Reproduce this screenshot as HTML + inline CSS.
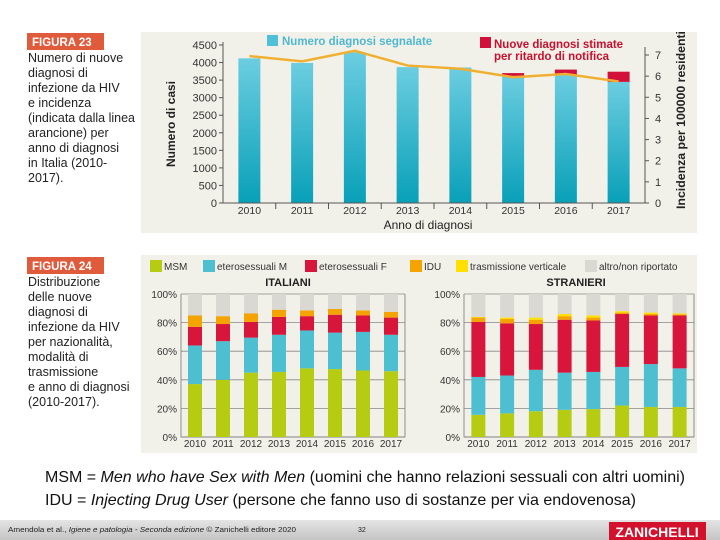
<!DOCTYPE html>
<html><head><meta charset="utf-8"><style>
body{margin:0;width:720px;height:540px;overflow:hidden;background:#fff;font-family:"Liberation Sans",sans-serif}
svg{display:block}
</style></head><body>
<svg id="s" width="720" height="540" viewBox="0 0 720 540" xmlns="http://www.w3.org/2000/svg">
<defs>
<linearGradient id="tg" x1="0" y1="0" x2="0" y2="1"><stop offset="0" stop-color="#6ccde0"/><stop offset="1" stop-color="#08a0b8"/></linearGradient>
<linearGradient id="fg" x1="0" y1="0" x2="0" y2="1"><stop offset="0" stop-color="#e4e4e4"/><stop offset="1" stop-color="#c4c4c4"/></linearGradient>
</defs>
<rect x="141" y="32" width="556" height="201" fill="#f2f1e9"/>
<rect x="141" y="255" width="556" height="198" fill="#f2f1e9"/>
<g font-size="12.5" fill="#222">
<rect x="27" y="33" width="77" height="17" fill="#e05a3c"/>
<text x="32" y="46" fill="#fff" font-weight="bold" font-size="11.5">FIGURA 23</text>
<text x="28" y="62">Numero di nuove</text><text x="28" y="77">diagnosi di</text><text x="28" y="92">infezione da HIV</text><text x="28" y="107">e incidenza</text><text x="28" y="122">(indicata dalla linea</text><text x="28" y="137">arancione) per</text><text x="28" y="152">anno di diagnosi</text><text x="28" y="167">in Italia (2010-</text><text x="28" y="182">2017).</text>
</g>
<g font-size="12.5" fill="#222">
<rect x="27" y="257" width="77" height="17" fill="#e05a3c"/>
<text x="32" y="270" fill="#fff" font-weight="bold" font-size="11.5">FIGURA 24</text>
<text x="28" y="286">Distribuzione</text><text x="28" y="301">delle nuove</text><text x="28" y="316">diagnosi di</text><text x="28" y="331">infezione da HIV</text><text x="28" y="346">per nazionalità,</text><text x="28" y="361">modalità di</text><text x="28" y="376">trasmissione</text><text x="28" y="391">e anno di diagnosi</text><text x="28" y="406">(2010-2017).</text>
</g>
<g id="c1"></g>
<g id="c2"></g>
<g font-size="16" fill="#111">
<text x="45" y="482" textLength="640" lengthAdjust="spacingAndGlyphs">MSM = <tspan font-style="italic">Men who have Sex with Men</tspan> (uomini che hanno relazioni sessuali con altri uomini)</text>
<text x="45" y="505" textLength="591" lengthAdjust="spacingAndGlyphs">IDU = <tspan font-style="italic">Injecting Drug User</tspan> (persone che fanno uso di sostanze per via endovenosa)</text>
</g>
<g>
<rect x="0" y="520" width="720" height="20" fill="url(#fg)"/>
<text x="8" y="532" font-size="7" fill="#222" textLength="288" lengthAdjust="spacingAndGlyphs">Amendola et al., <tspan font-style="italic">Igiene e patologia - Seconda edizione</tspan> © Zanichelli editore 2020</text>
<text x="358" y="532" font-size="7" fill="#222">32</text>
<rect x="609" y="522" width="97" height="18" fill="#d4112c"/>
<text x="657" y="537" font-size="14" font-weight="bold" fill="#fff" text-anchor="middle">ZANICHELLI</text>
</g>
</svg>
<script>
const years=["2010","2011","2012","2013","2014","2015","2016","2017"];
const reported=[4120,3990,4290,3870,3860,3620,3650,3450];
const estimatedExtra=[0,0,0,0,0,80,150,290];
const incidence=[6.95,6.7,7.2,6.5,6.35,5.95,6.1,5.75];
const leftTicks=[0,500,1000,1500,2000,2500,3000,3500,4000,4500];
const rightTicks=[0,1,2,3,4,5,6,7];
const segNames=["MSM","eterosessuali M","eterosessuali F","IDU","trasmissione verticale","altro/non riportato"];
const itMSM=[37,40,45,45.5,48,47.5,46.5,46];
const itEtM=[27,27,24.5,26,26.5,25.5,27,25.5];
const itEtF=[13,12,11,12.5,10,12.5,11.5,12];
const itIDU=[8,5.5,6,5,4,4,3.5,4];
const itVert=[0,0,0,0,0,0,0,0];
const stMSM=[15.5,16.5,18,19,19.5,22,21,21];
const stEtM=[26.5,26.5,29,26,26,27,30,27];
const stEtF=[38.5,36.5,32,37,36,37,34,37];
const stIDU=[3,3,3,2.5,2,1,1,0.8];
const stVert=[0.5,1,1.5,1.5,1.5,1,1,0.7];
const pctTicks=["0%","20%","40%","60%","80%","100%"];

const NS="http://www.w3.org/2000/svg";
function mk(p,t,a,txt){const e=document.createElementNS(NS,t);for(const k in a)e.setAttribute(k,a[k]);if(txt!==undefined)e.textContent=txt;p.appendChild(e);return e;}

// Chart 1
const c1=document.getElementById('c1');
const x0=223,x1=645,yB=203,yT=45;
const yL=v=>yB-(v/4500)*(yB-yT);
const yR=v=>yB-(v/7)*(yB-55);
const step=(x1-x0)/8;
const xc=i=>x0+step*(i+0.5);
leftTicks.forEach(t=>{
  const tk=mk(c1,'line',{x1:x0-4,x2:x0,y1:yL(t),y2:yL(t),stroke:'#555','stroke-width':1});
  
  const lb=mk(c1,'text',{x:x0-6,y:yL(t)+4,'font-size':11,fill:'#333','text-anchor':'end'},String(t));
  
});
rightTicks.forEach(t=>{
  const tk=mk(c1,'line',{x1:x1,x2:x1+4,y1:yR(t),y2:yR(t),stroke:'#555','stroke-width':1});
  
  const lb=mk(c1,'text',{x:x1+10,y:yR(t)+4,'font-size':11,fill:'#333'},String(t));
  
});
years.forEach((y,i)=>{
  const h=yB-yL(reported[i]);
  const b=mk(c1,'rect',{x:xc(i)-11,y:yL(reported[i]),width:22,height:h,fill:'url(#tg)'});
  
  if(estimatedExtra[i]>0){
    const r=mk(c1,'rect',{x:xc(i)-11,y:yL(reported[i]+estimatedExtra[i]),width:22,height:yL(reported[i])-yL(reported[i]+estimatedExtra[i]),fill:'#d3103a'});
    
  }
  const lb=mk(c1,'text',{x:xc(i),y:yB+11,'font-size':10.5,fill:'#333','text-anchor':'middle'},y);
  
  if(i>0){const t=mk(c1,'line',{x1:x0+step*i,x2:x0+step*i,y1:yB,y2:yB+6,stroke:'#555'});}
});
let ax=mk(c1,'path',{d:`M${x0} ${yT-3}V${yB}H${x1}V${yT+2}`,fill:'none',stroke:'#555','stroke-width':1});

const ln=mk(c1,'polyline',{points:incidence.map((v,i)=>xc(i)+','+yR(v)).join(' '),fill:'none',stroke:'#efb032','stroke-width':2.5});

let t1=mk(c1,'text',{x:428,y:229,'font-size':12,fill:'#222','text-anchor':'middle'},'Anno di diagnosi');

let t2=mk(c1,'text',{transform:'translate(175,124) rotate(-90)','font-size':12,'font-weight':'bold',fill:'#222','text-anchor':'middle'},'Numero di casi');

let t3=mk(c1,'text',{transform:'translate(685,120) rotate(-90)','font-size':11.5,'font-weight':'bold',fill:'#222','text-anchor':'middle',textLength:178,lengthAdjust:'spacingAndGlyphs'},'Incidenza per 100000 residenti');

let l1=mk(c1,'rect',{x:267,y:35,width:11,height:11,fill:'#4fc0d9'});
let l2=mk(c1,'text',{x:282,y:45,'font-size':11.5,'font-weight':'bold',fill:'#4fb8d0'},'Numero diagnosi segnalate');
let l3=mk(c1,'rect',{x:480,y:37,width:11,height:11,fill:'#d3103a'});
let l4=mk(c1,'text',{x:494,y:48,'font-size':11.5,'font-weight':'bold',fill:'#c8102e'},'Nuove diagnosi stimate');
let l5=mk(c1,'text',{x:494,y:60,'font-size':11.5,'font-weight':'bold',fill:'#c8102e'},'per ritardo di notifica');

// Chart 2
const c2=document.getElementById('c2');
const segColors=["#b5cc12","#4ebfd0","#d8153a","#f5a300","#ffe000","#d9d8d2"];
const legX=[150,203,305,410,456,585];
segNames.forEach((n,k)=>{
  const sw=mk(c2,'rect',{x:legX[k],y:260,width:12,height:12,fill:segColors[k]});
  
  const tx=mk(c2,'text',{x:legX[k]+14,y:270,'font-size':10,fill:'#333'},n);
  
});
function stacked(px0,px1,title,tx,series){
  const b0=437,b1=294;
  const yP=v=>b0-(v/100)*(b0-b1);
  const st=(px1-px0)/8;
  const tt=mk(c2,'text',{x:tx,y:286,'font-size':11,'font-weight':'bold',fill:'#222','text-anchor':'middle'},title);
  
  pctTicks.forEach((t,k)=>{
    const g=mk(c2,'line',{x1:px0,x2:px1,y1:yP(k*20),y2:yP(k*20),stroke:'#888','stroke-width':0.8});
    
    const lb=mk(c2,'text',{x:px0-4,y:yP(k*20)+4,'font-size':10,fill:'#333','text-anchor':'end'},t);
    
  });
  const ax2=mk(c2,'path',{d:`M${px0} ${b1}V${b0}H${px1}V${b1}`,fill:'none',stroke:'#777','stroke-width':0.8});
  
  years.forEach((y,i)=>{
    const cx=px0+st*(i+0.5);
    let acc=0;
    const vals=series.map(s=>s[i]);
    const rest=100-vals.reduce((a,b)=>a+b,0);
    vals.concat([rest]).forEach((v,k)=>{
      if(v<=0)return;
      const r=mk(c2,'rect',{x:cx-7,y:yP(acc+v),width:14,height:yP(acc)-yP(acc+v),fill:segColors[k]});
      
      acc+=v;
    });
    const lb=mk(c2,'text',{x:cx,y:447,'font-size':10,fill:'#333','text-anchor':'middle'},y);
    
  });
}
stacked(181,405,'ITALIANI',288,[itMSM,itEtM,itEtF,itIDU,itVert]);
stacked(464,694,'STRANIERI',576,[stMSM,stEtM,stEtF,stIDU,stVert]);
</script>
</body></html>
